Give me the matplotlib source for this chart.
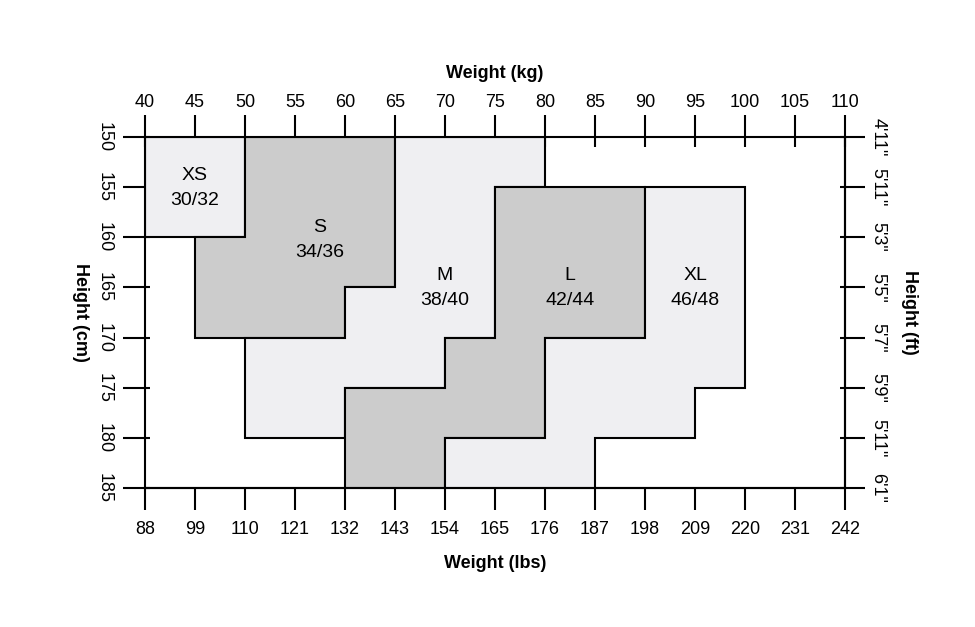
import matplotlib.pyplot as plt
from matplotlib.patches import Polygon

# -------------------------
# DATA
# -------------------------
kg_ticks = [40, 45, 50, 55, 60, 65, 70, 75, 80, 85, 90, 95, 100, 105, 110]
lbs_labels = ["88", "99", "110", "121", "132", "143", "154", "165", "176",
              "187", "198", "209", "220", "231", "242"]
cm_ticks = [150, 155, 160, 165, 170, 175, 180, 185]
ft_labels = ["4'11\"", "5'11\"", "5'3\"", "5'5\"", "5'7\"", "5'9\"", "5'11\"", "6'1\""]

sizes = ["XS", "S", "M", "L", "XL"]
eu_sizes = ["30/32", "34/36", "38/40", "42/44", "46/48"]

# outlines: (weight kg, height cm)
xs_kg = [40, 50, 50, 40]
xs_cm = [150, 150, 160, 160]
s_kg = [50, 65, 65, 60, 60, 45, 45, 50]
s_cm = [150, 150, 165, 165, 170, 170, 160, 160]
m_kg = [65, 80, 80, 75, 75, 70, 70, 60, 60, 50, 50, 60, 60, 65]
m_cm = [150, 150, 155, 155, 170, 170, 175, 175, 180, 180, 170, 170, 165, 165]
l_kg = [75, 90, 90, 80, 80, 70, 70, 60, 60, 70, 70, 75]
l_cm = [155, 155, 170, 170, 180, 180, 185, 185, 175, 175, 170, 170]
xl_kg = [90, 100, 100, 95, 95, 85, 85, 70, 70, 80, 80, 90]
xl_cm = [155, 155, 175, 175, 180, 180, 185, 185, 180, 180, 170, 170]

outlines = [(xs_kg, xs_cm), (s_kg, s_cm), (m_kg, m_cm), (l_kg, l_cm), (xl_kg, xl_cm)]

# label centres (kg, cm)
label_kg = [45, 57.5, 70, 82.5, 95]
label_cm = [155, 160.2, 165, 165, 165]

# -------------------------
# STYLE
# -------------------------
light = "#efeff2"
dark = "#cccccc"
fills = [light, dark, light, dark, light]
plt.rcParams['font.family'] = ['Liberation Sans', 'DejaVu Sans']
lw = 1.5
tick_fs = 13

fig = plt.figure(figsize=(9.75, 6.27), dpi=100)
ax = fig.add_axes([145 / 975, 1 - 488 / 627, 700 / 975, 351 / 627])

for (xk, yc), col in zip(outlines, fills):
    ax.add_patch(Polygon(list(zip(xk, yc)), closed=True, facecolor=col,
                         edgecolor="black", linewidth=lw, zorder=2))

for name, eu, x, y in zip(sizes, eu_sizes, label_kg, label_cm):
    ax.text(x, y - 1.2, name, ha="center", va="center", fontsize=14, zorder=3)
    ax.text(x, y + 1.3, eu, ha="center", va="center", fontsize=14, zorder=3)

ax.set_xlim(40, 110)
ax.set_ylim(185, 150)

for sp in ax.spines.values():
    sp.set_linewidth(lw)
    sp.set_zorder(4)

# top: kg, left: cm
ax.xaxis.tick_top()
ax.set_xticks(kg_ticks)
ax.set_yticks(cm_ticks)
ax.tick_params(axis="x", which="major", direction="out", length=16, width=lw,
               labelsize=tick_fs, pad=3, top=True, bottom=False)
ax.tick_params(axis="y", which="major", direction="out", length=16, width=lw,
               labelsize=tick_fs, pad=7, left=True, right=False, labelrotation=-90)
for lab in ax.get_yticklabels():
    lab.set_va("center")
ax.set_xlabel("Weight (kg)", fontsize=13, fontweight="bold", labelpad=11)
ax.xaxis.set_label_position("top")
ax.set_ylabel("Height (cm)", fontsize=13, fontweight="bold", rotation=-90,
              va="center", labelpad=11)

# inner stubs of the ticks
ax.xaxis.remove_overlapping_locs = False
ax.yaxis.remove_overlapping_locs = False
ax.set_xticks(kg_ticks, minor=True)
ax.set_yticks(cm_ticks, minor=True)
ax.tick_params(axis="x", which="minor", direction="in", length=7, width=lw,
               top=True, bottom=False)
ax.tick_params(axis="y", which="minor", direction="in", length=3.6, width=lw,
               left=True, right=True)

# bottom: lbs
secx = ax.secondary_xaxis("bottom")
secx.set_xticks(kg_ticks, labels=lbs_labels)
secx.tick_params(direction="out", length=16, width=lw, labelsize=tick_fs, pad=8)
secx.spines["bottom"].set_linewidth(lw)
secx.set_xlabel("Weight (lbs)", fontsize=13, fontweight="bold", labelpad=12)

# right: ft
secy = ax.secondary_yaxis("right")
secy.set_yticks(cm_ticks, labels=ft_labels)
secy.tick_params(direction="out", length=14.5, width=lw, labelsize=tick_fs, pad=3,
                 labelrotation=-90)
for lab in secy.get_yticklabels():
    lab.set_va("center")
secy.spines["right"].set_linewidth(lw)
secy.set_ylabel("Height (ft)", fontsize=13, fontweight="bold", rotation=-90,
                va="center", labelpad=17)

fig.savefig("out.png", dpi=100)
